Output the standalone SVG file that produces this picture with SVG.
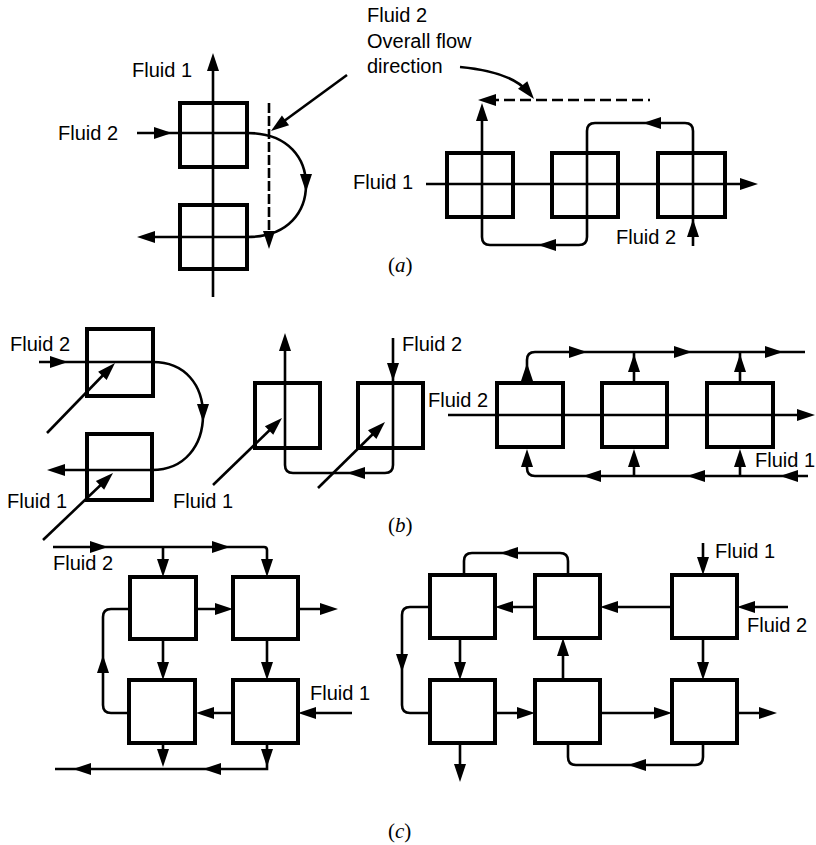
<svg xmlns="http://www.w3.org/2000/svg" xmlns:xlink="http://www.w3.org/1999/xlink" width="816" height="845" viewBox="0 0 816 845">
<style>
.box{fill:none;stroke:#000;stroke-width:4}
.ln{fill:none;stroke:#000;stroke-width:2.6}
.dash{stroke-dasharray:10 3}
.dash2{stroke-dasharray:11 5}
.lbl{font-family:"Liberation Sans",Arial,sans-serif;font-size:20px;fill:#000}
.cap{font-family:"Liberation Serif","Times New Roman",serif;font-size:21px;fill:#000}
</style>
<defs>
<path id="ah" d="M0,0 L-18,-6 L-18,6 Z" fill="#000"/>
</defs>
<rect width="816" height="845" fill="#fff"/>

<!-- nodes -->
<g id="a1-box1"><rect class="box" x="180" y="103" width="67" height="64"/></g>
<g id="a1-box2"><rect class="box" x="180" y="205" width="67" height="64"/></g>
<g id="a2-box1"><rect class="box" x="447" y="153" width="66" height="64"/></g>
<g id="a2-box2"><rect class="box" x="552" y="153" width="66" height="64"/></g>
<g id="a2-box3"><rect class="box" x="658" y="153" width="67" height="64"/></g>
<g id="b1-box1"><rect class="box" x="87" y="329" width="66" height="67"/></g>
<g id="b1-box2"><rect class="box" x="87" y="434" width="65" height="66"/></g>
<g id="b2-box1"><rect class="box" x="255" y="383" width="65" height="65"/></g>
<g id="b2-box2"><rect class="box" x="358" y="383" width="65" height="65"/></g>
<g id="b3-box1"><rect class="box" x="497" y="383" width="66" height="64"/></g>
<g id="b3-box2"><rect class="box" x="602" y="383" width="65" height="64"/></g>
<g id="b3-box3"><rect class="box" x="707" y="383" width="66" height="64"/></g>
<g id="c1-box1"><rect class="box" x="130" y="577" width="66" height="62"/></g>
<g id="c1-box2"><rect class="box" x="233" y="577" width="65" height="62"/></g>
<g id="c1-box3"><rect class="box" x="129" y="680" width="66" height="63"/></g>
<g id="c1-box4"><rect class="box" x="233" y="680" width="65" height="63"/></g>
<g id="c2-box1"><rect class="box" x="430" y="575" width="65" height="63"/></g>
<g id="c2-box2"><rect class="box" x="535" y="575" width="65" height="63"/></g>
<g id="c2-box3"><rect class="box" x="672" y="575" width="65" height="63"/></g>
<g id="c2-box4"><rect class="box" x="430" y="680" width="65" height="63"/></g>
<g id="c2-box5"><rect class="box" x="535" y="680" width="65" height="63"/></g>
<g id="c2-box6"><rect class="box" x="672" y="680" width="65" height="63"/></g>

<!-- connectors -->
<g id="connectors">
<!-- (a) left -->
<path class="ln" d="M213,297 V64"/>
<use href="#ah" transform="translate(213,53) rotate(-90)"/>
<path class="ln" d="M137,133 H247 C290,133 306,160 306,185 C306,210 290,237 247,237 H146"/>
<use href="#ah" transform="translate(172,133)"/>
<use href="#ah" transform="translate(306,192) rotate(90)"/>
<use href="#ah" transform="translate(137,237) rotate(180)"/>
<path class="ln dash" d="M269,103 V240"/>
<use href="#ah" transform="translate(269,249) rotate(90)"/>
<path class="ln" d="M347,75 L280,124"/>
<use href="#ah" transform="translate(271,131) rotate(143.6)"/>
<!-- (a) right -->
<path class="ln" d="M426,184 H748"/>
<use href="#ah" transform="translate(758,184)"/>
<path class="ln" d="M693,246 V131 Q693,123 685,123 H595 Q587,123 587,131 V237 Q587,245 579,245 H490 Q482,245 482,237 V112"/>
<use href="#ah" transform="translate(482,103) rotate(-90)"/>
<use href="#ah" transform="translate(693,219) rotate(-90)"/>
<use href="#ah" transform="translate(643,123) rotate(180)"/>
<use href="#ah" transform="translate(538,245) rotate(180)"/>
<path class="ln dash2" d="M488,100 H650"/>
<use href="#ah" transform="translate(478,100) rotate(180)"/>
<path class="ln" d="M460,67 Q512,72 528,92"/>
<use href="#ah" transform="translate(534,99) rotate(51)"/>
<!-- (b) left -->
<path class="ln" d="M39,362 H153 C185,362 203,385 203,415 C203,445 185,470 152,470 H56"/>
<use href="#ah" transform="translate(68,362)"/>
<use href="#ah" transform="translate(203,422) rotate(90)"/>
<use href="#ah" transform="translate(47,470) rotate(180)"/>
<path class="ln" d="M47,433 L109,369"/>
<use href="#ah" transform="translate(115,363) rotate(-45.5)"/>
<path class="ln" d="M43,540 L107,479"/>
<use href="#ah" transform="translate(113,473) rotate(-43.7)"/>
<!-- (b) middle -->
<path class="ln" d="M393,338 V465 Q393,473 385,473 H293 Q285,473 285,465 V344"/>
<use href="#ah" transform="translate(285,333) rotate(-90)"/>
<use href="#ah" transform="translate(393,381) rotate(90)"/>
<use href="#ah" transform="translate(347,473) rotate(180)"/>
<path class="ln" d="M213,485 L276,424"/>
<use href="#ah" transform="translate(282,418) rotate(-44)"/>
<path class="ln" d="M318,488 L379,428"/>
<use href="#ah" transform="translate(385,422) rotate(-44.6)"/>
<!-- (b) right -->
<path class="ln" d="M448,415 H805"/>
<use href="#ah" transform="translate(815,415)"/>
<path class="ln" d="M527,383 V360 Q527,352 535,352 H805 M634,383 V352 M740,383 V352"/>
<use href="#ah" transform="translate(527,363) rotate(-90)"/>
<use href="#ah" transform="translate(634,354) rotate(-90)"/>
<use href="#ah" transform="translate(740,354) rotate(-90)"/>
<use href="#ah" transform="translate(587,352)"/>
<use href="#ah" transform="translate(692,352)"/>
<use href="#ah" transform="translate(783,352)"/>
<path class="ln" d="M808,476 H535 Q527,476 527,468 V455 M634,476 V455 M740,476 V455"/>
<use href="#ah" transform="translate(527,449) rotate(-90)"/>
<use href="#ah" transform="translate(634,449) rotate(-90)"/>
<use href="#ah" transform="translate(740,449) rotate(-90)"/>
<use href="#ah" transform="translate(583,476) rotate(180)"/>
<use href="#ah" transform="translate(687,476) rotate(180)"/>
<use href="#ah" transform="translate(780,476) rotate(180)"/>
<!-- (c) left -->
<path class="ln" d="M53,547 H264 Q267,547 267,550 V570 M163,547 V570"/>
<use href="#ah" transform="translate(108,547)"/>
<use href="#ah" transform="translate(230,547)"/>
<use href="#ah" transform="translate(163,577) rotate(90)"/>
<use href="#ah" transform="translate(267,577) rotate(90)"/>
<path class="ln" d="M196,609 H226 M298,609 H330"/>
<use href="#ah" transform="translate(233,609)"/>
<use href="#ah" transform="translate(338,609)"/>
<path class="ln" d="M163,639 V672 M267,639 V672"/>
<use href="#ah" transform="translate(163,680) rotate(90)"/>
<use href="#ah" transform="translate(267,680) rotate(90)"/>
<path class="ln" d="M233,713 H204 M352,713 H306"/>
<use href="#ah" transform="translate(196,713) rotate(180)"/>
<use href="#ah" transform="translate(298,713) rotate(180)"/>
<path class="ln" d="M129,713 H111 Q103,713 103,705 V617 Q103,609 111,609 H130"/>
<use href="#ah" transform="translate(103,655) rotate(-90)"/>
<path class="ln" d="M163,743 V760 M267,743 V769 H55"/>
<use href="#ah" transform="translate(163,767) rotate(90)"/>
<use href="#ah" transform="translate(267,767) rotate(90)"/>
<use href="#ah" transform="translate(73,769) rotate(180)"/>
<use href="#ah" transform="translate(203,769) rotate(180)"/>
<!-- (c) right -->
<path class="ln" d="M464,575 V561 Q464,553 472,553 H560 Q568,553 568,561 V575"/>
<use href="#ah" transform="translate(500,553) rotate(180)"/>
<path class="ln" d="M672,607 H608 M535,607 H503 M788,607 H745"/>
<use href="#ah" transform="translate(600,607) rotate(180)"/>
<use href="#ah" transform="translate(495,607) rotate(180)"/>
<use href="#ah" transform="translate(737,607) rotate(180)"/>
<path class="ln" d="M703,543 V567"/>
<use href="#ah" transform="translate(703,575) rotate(90)"/>
<path class="ln" d="M430,607 H410 Q402,607 402,615 V705 Q402,713 410,713 H430"/>
<use href="#ah" transform="translate(402,672) rotate(90)"/>
<path class="ln" d="M460,638 V672 M703,638 V672 M563,680 V646"/>
<use href="#ah" transform="translate(460,680) rotate(90)"/>
<use href="#ah" transform="translate(703,680) rotate(90)"/>
<use href="#ah" transform="translate(563,638) rotate(-90)"/>
<path class="ln" d="M495,713 H527 M600,713 H664 M737,713 H769"/>
<use href="#ah" transform="translate(535,713)"/>
<use href="#ah" transform="translate(672,713)"/>
<use href="#ah" transform="translate(777,713)"/>
<path class="ln" d="M460,743 V774"/>
<use href="#ah" transform="translate(460,782) rotate(90)"/>
<path class="ln" d="M703,743 V757 Q703,765 695,765 H576 Q568,765 568,757 V743"/>
<use href="#ah" transform="translate(628,765) rotate(180)"/>
</g>

<!-- labels -->
<g id="labels">
<text class="lbl" x="132" y="77">Fluid 1</text>
<text class="lbl" x="58" y="140">Fluid 2</text>
<text class="lbl" x="367" y="22">Fluid 2</text>
<text class="lbl" x="367" y="48">Overall flow</text>
<text class="lbl" x="367" y="73">direction</text>
<text class="lbl" x="353" y="189">Fluid 1</text>
<text class="lbl" x="616" y="244">Fluid 2</text>
<text class="cap" x="388" y="272">(<tspan font-style="italic">a</tspan>)</text>
<text class="lbl" x="10" y="351">Fluid 2</text>
<text class="lbl" x="7" y="508">Fluid 1</text>
<text class="lbl" x="173" y="508">Fluid 1</text>
<text class="lbl" x="402" y="351">Fluid 2</text>
<text class="lbl" x="428" y="407">Fluid 2</text>
<text class="lbl" x="755" y="467">Fluid 1</text>
<text class="cap" x="388" y="532">(<tspan font-style="italic">b</tspan>)</text>
<text class="lbl" x="53" y="570">Fluid 2</text>
<text class="lbl" x="310" y="700">Fluid 1</text>
<text class="lbl" x="715" y="558">Fluid 1</text>
<text class="lbl" x="747" y="632">Fluid 2</text>
<text class="cap" x="388" y="838">(<tspan font-style="italic">c</tspan>)</text>
</g>
</svg>
